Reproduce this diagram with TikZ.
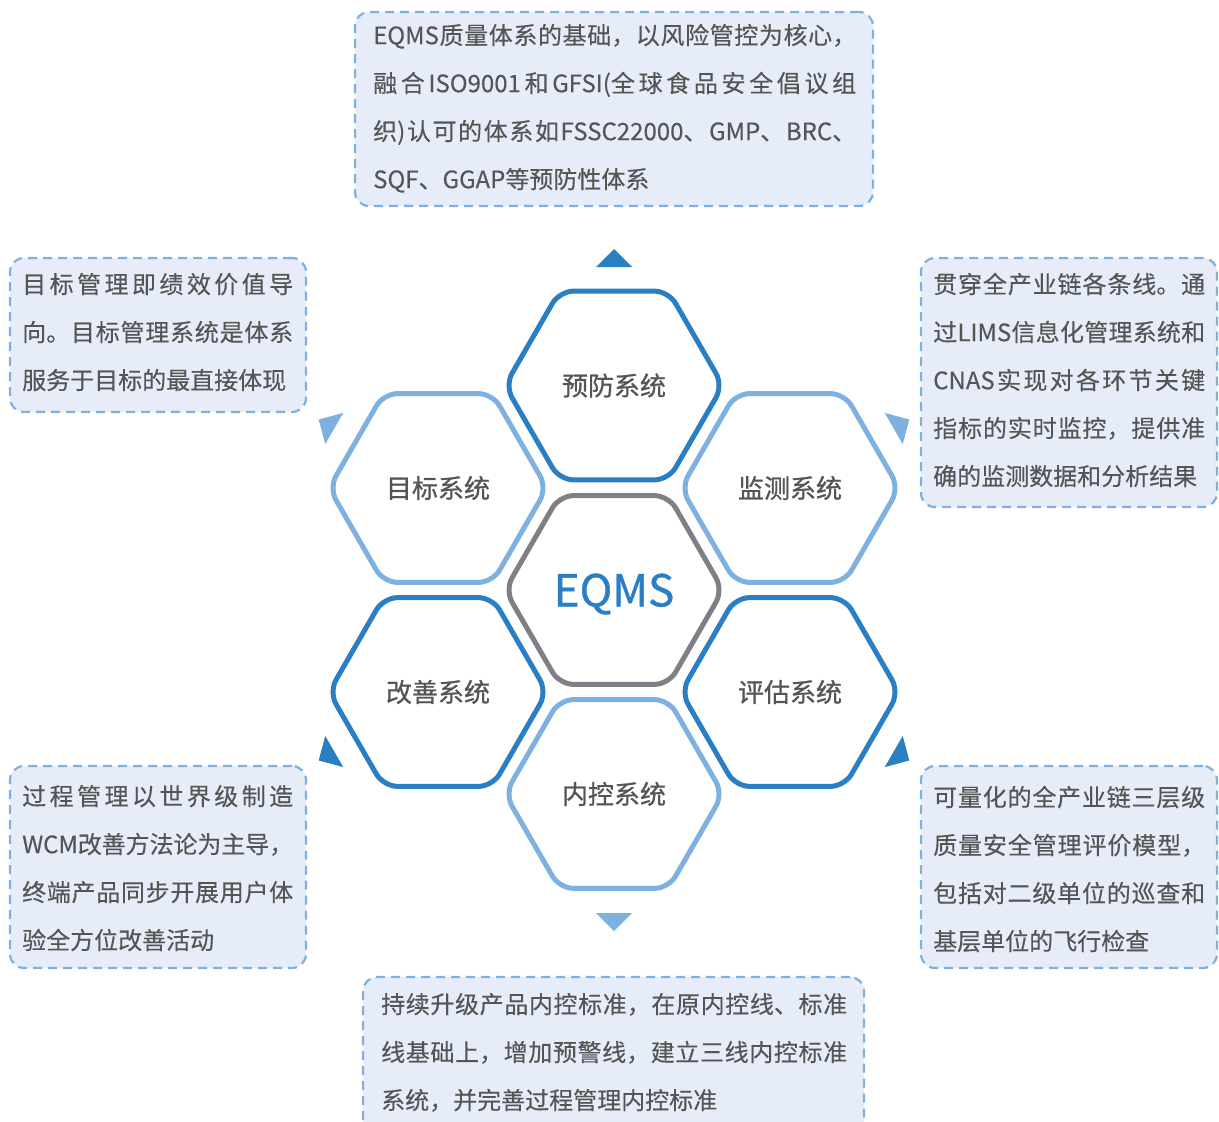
\documentclass[tikz,border=0pt]{standalone}
\usepackage{fontspec}
\setmainfont{Noto Sans CJK SC}
\newfontfamily\boxfont[FakeBold=0.3]{Noto Sans CJK SC}
\newfontfamily\hexfont[FakeBold=0.9]{Noto Sans CJK SC}
\usetikzlibrary{shapes.geometric,calc}
\definecolor{dblue}{HTML}{2A7EC4}
\definecolor{lblue}{HTML}{7FB1E0}
\definecolor{hgray}{HTML}{7F7F85}
\definecolor{boxfill}{HTML}{E7EDF8}
\definecolor{boxline}{HTML}{7FB1E0}
\definecolor{txt}{HTML}{555555}
\newcommand\infofont{\boxfont\fontsize{24}{48}\selectfont\XeTeXlinebreaklocale "zh"\XeTeXlinebreakskip=0pt plus 10pt minus 2pt\relax\parindent=0pt}
\newcommand\marktri[2]{\fill[#1] ($(eqms)+(#2:323)+(#2+90:18)$) -- ($(eqms)+(#2:341)$) -- ($(eqms)+(#2:323)+(#2-90:18)$) -- cycle;}
\tikzset{
  x=1pt, y=-1pt,
  hexa/.style={regular polygon, regular polygon sides=6, minimum size=218pt, inner sep=0pt,
    line width=5pt, rounded corners=14pt, font=\hexfont\fontsize{26}{30}\selectfont, text=txt},
  infobox/.style={draw=boxline, fill=boxfill, line width=2.2pt, dash pattern=on 9pt off 6pt,
    rounded corners=14pt, inner sep=0pt},
  infotext/.style={anchor=north west, inner sep=0pt, text width=#1, align=justify,
    font=\infofont, text=txt}
}
\begin{document}
\begin{tikzpicture}
\useasboundingbox (0,0) rectangle (1219,1122);
% hexagons
\node[hexa, draw=dblue] (yufang) at (614,385.5) {预防系统};
\node[hexa, draw=lblue] (mubiao) at (438,488) {目标系统};
\node[hexa, draw=lblue] (jiance) at (790,488) {监测系统};
\node[hexa, draw=hgray, text=dblue, text depth=0pt, font=\hexfont\fontsize{44}{50}\selectfont] (eqms) at (614,590) {EQMS};
\node[hexa, draw=dblue] (gaishan) at (438,692) {改善系统};
\node[hexa, draw=dblue] (pinggu) at (790,692) {评估系统};
\node[hexa, draw=lblue] (neikong) at (614,794) {内控系统};
% direction marks
\marktri{dblue}{-90}
\marktri{lblue}{-150}
\marktri{lblue}{-30}
\marktri{dblue}{150}
\marktri{dblue}{30}
\marktri{lblue}{90}
% boxes
\node[infobox, minimum width=518pt, minimum height=194pt] (btop) at (614,109) {};
\node[infobox, minimum width=296pt, minimum height=154pt] (blt) at (158,335) {};
\node[infobox, minimum width=296pt, minimum height=249pt] (brt) at (1069,382.5) {};
\node[infobox, minimum width=296pt, minimum height=202pt] (blb) at (158,867) {};
\node[infobox, minimum width=296pt, minimum height=202pt] (brb) at (1069,867) {};
\node[infobox, minimum width=501pt, minimum height=163pt] (bbot) at (613.5,1058.5) {};
% texts
\node[infotext=483pt] (ttop) at (373,23) {\rule{0pt}{21pt}EQMS质量体系的基础，以风险管控为核心，\break 融合ISO9001和GFSI(全球食品安全倡议组\break 织)认可的体系如FSSC22000、GMP、BRC、\break SQF、GGAP等预防性体系};
\node[infotext=271pt] (tlt) at (22,272) {\rule{0pt}{21pt}目标管理即绩效价值导\break 向。目标管理系统是体系\break 服务于目标的最直接体现};
\node[infotext=272pt] (trt) at (933,272) {\rule{0pt}{21pt}贯穿全产业链各条线。通\break 过LIMS信息化管理系统和\break CNAS实现对各环节关键\break 指标的实时监控，提供准\break 确的监测数据和分析结果};
\node[infotext=271pt] (tlb) at (22,784) {\rule{0pt}{21pt}过程管理以世界级制造\break WCM改善方法论为主导，\break 终端产品同步开展用户体\break 验全方位改善活动};
\node[infotext=272pt] (trb) at (933,785) {\rule{0pt}{21pt}可量化的全产业链三层级\break 质量安全管理评价模型，\break 包括对二级单位的巡查和\break 基层单位的飞行检查};
\node[infotext=466pt] (tbot) at (381,992) {\rule{0pt}{21pt}持续升级产品内控标准，在原内控线、标准\break 线基础上，增加预警线，建立三线内控标准\break 系统，并完善过程管理内控标准};
\end{tikzpicture}
\end{document}
